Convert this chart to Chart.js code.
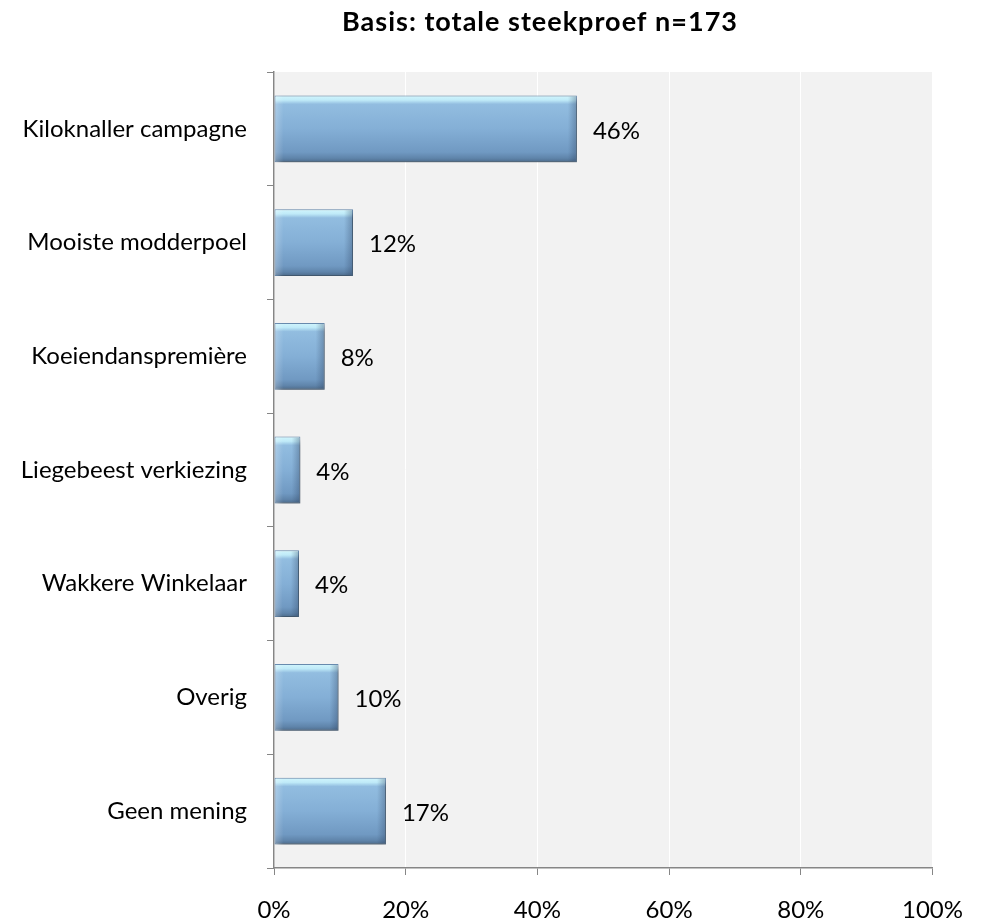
<!DOCTYPE html>
<html>
<head>
<meta charset="utf-8">
<script src="https://cdn.jsdelivr.net/npm/chart.js@4/dist/chart.umd.min.js"></script>
<style>
html,body{margin:0;padding:0;background:#fff;}
#wrap{width:984px;height:924px;position:relative;}
</style>
</head>
<body>
<div id="wrap"><canvas id="c" width="984" height="924"></canvas></div>
<script>
const titleText = "Basis: totale steekproef n=173";
const categories = ["Kiloknaller campagne","Mooiste modderpoel","Koeiendanspremière","Liegebeest verkiezing","Wakkere Winkelaar","Overig","Geen mening"];
const values = [46, 12, 7.7, 4, 3.8, 9.8, 17];
const valueLabels = ["46%","12%","8%","4%","4%","10%","17%"];
const xTicks = [0, 20, 40, 60, 80, 100];

const FONT = "Lato, 'Open Sans', sans-serif";
const BAR_FRAC = 0.587;

const bgPlugin = {
  id: 'bg',
  beforeDraw(chart) {
    const {ctx, chartArea: a} = chart;
    ctx.save();
    ctx.fillStyle = '#f2f2f2';
    ctx.fillRect(a.left, a.top, a.right - a.left, a.bottom - a.top);
    ctx.restore();
  },
  afterDraw(chart) {
    const {ctx} = chart;
    ctx.save();
    ctx.font = "bold 27px " + FONT;
    try { ctx.letterSpacing = '1px'; } catch(e) {}
    ctx.fillStyle = '#000';
    ctx.textAlign = 'center';
    ctx.textBaseline = 'alphabetic';
    ctx.fillText(titleText, 540, 31);
    try { ctx.letterSpacing = '0px'; } catch(e) {}
    // data labels
    const meta = chart.getDatasetMeta(0);
    ctx.font = "24px " + FONT;
    ctx.textAlign = 'left';
    ctx.textBaseline = 'middle';
    meta.data.forEach((bar, i) => {
      ctx.fillText(valueLabels[i], bar.x + 16, bar.y + 2);
    });
    ctx.restore();
  }
};

const shadowPlugin = {
  id: 'shadow',
  beforeDatasetDraw(chart) {
    const ctx = chart.ctx;
    ctx.save();
    ctx.shadowColor = 'rgba(0,0,0,0.45)';
    ctx.shadowBlur = 6;
    ctx.shadowOffsetX = 3;
    ctx.shadowOffsetY = 4;
  },
  afterDatasetDraw(chart) {
    const ctx = chart.ctx;
    ctx.restore();
    // bevel highlights on bar ends, positioned from the library's bar elements
    const meta = chart.getDatasetMeta(0);
    ctx.save();
    meta.data.forEach(bar => {
      const left = bar.base, right = bar.x, top = bar.y - bar.height / 2, h = bar.height;
      const w = Math.min(9, (right - left) / 3);
      let g = ctx.createLinearGradient(left, 0, left + w, 0);
      g.addColorStop(0, 'rgba(255,255,255,0.25)');
      g.addColorStop(1, 'rgba(255,255,255,0)');
      ctx.fillStyle = g;
      ctx.fillRect(left + 1, top + 1, w, h - 2);
      g = ctx.createLinearGradient(right - w, 0, right, 0);
      g.addColorStop(0, 'rgba(40,60,90,0)');
      g.addColorStop(1, 'rgba(40,60,90,0.35)');
      ctx.fillStyle = g;
      ctx.fillRect(right - w, top + 1, w - 1, h - 2);
    });
    ctx.restore();
  }
};

function barGradient(context) {
  const chart = context.chart;
  const ys = chart.scales.y;
  if (!ys || !chart.chartArea) return '#7fa9d1';
  const band = (ys.bottom - ys.top) / categories.length;
  const h = band * BAR_FRAC;
  const cy = ys.getPixelForValue(context.dataIndex);
  const top = cy - h / 2, bot = cy + h / 2;
  const g = chart.ctx.createLinearGradient(0, top, 0, bot);
  g.addColorStop(0, '#d2f6fd');
  g.addColorStop(0.07, '#bfeaf8');
  g.addColorStop(0.13, '#92bde0');
  g.addColorStop(0.5, '#84afd6');
  g.addColorStop(0.85, '#7099c2');
  g.addColorStop(0.94, '#5f84aa');
  g.addColorStop(1, '#4d6b8a');
  return g;
}

new Chart(document.getElementById('c'), {
  type: 'bar',
  data: {
    labels: categories,
    datasets: [{
      data: values,
      backgroundColor: barGradient,
      borderColor: '#6b8fb3',
      borderWidth: 1,
      borderSkipped: false,
      categoryPercentage: 1,
      barPercentage: BAR_FRAC
    }]
  },
  options: {
    indexAxis: 'y',
    responsive: false,
    animation: false,
    devicePixelRatio: 1,
    layout: { padding: { top: 72, right: 47, left: 0, bottom: 0 } },
    plugins: { legend: { display: false }, tooltip: { enabled: false }, title: { display: false } },
    scales: {
      x: {
        min: 0, max: 100,
        afterBuildTicks(scale) { scale.ticks = xTicks.map(v => ({ value: v })); },
        afterFit(scale) { scale.height = 56; },
        grid: { color: '#ffffff', lineWidth: 1, drawTicks: true, tickLength: 7, tickColor: '#868686' },
        border: { display: true, color: '#868686', width: 1.5 },
        ticks: {
          font: { size: 24, family: FONT }, color: '#000', padding: 21,
          callback: v => v + '%'
        }
      },
      y: {
        afterFit(scale) { scale.width = 274; },
        grid: { drawOnChartArea: false, drawTicks: true, tickLength: 7, tickColor: '#868686', offset: true },
        border: { display: true, color: '#868686', width: 1.5 },
        ticks: { font: { size: 24, family: FONT }, color: '#000', padding: 20 }
      }
    }
  },
  plugins: [bgPlugin, shadowPlugin]
});
</script>
</body>
</html>
